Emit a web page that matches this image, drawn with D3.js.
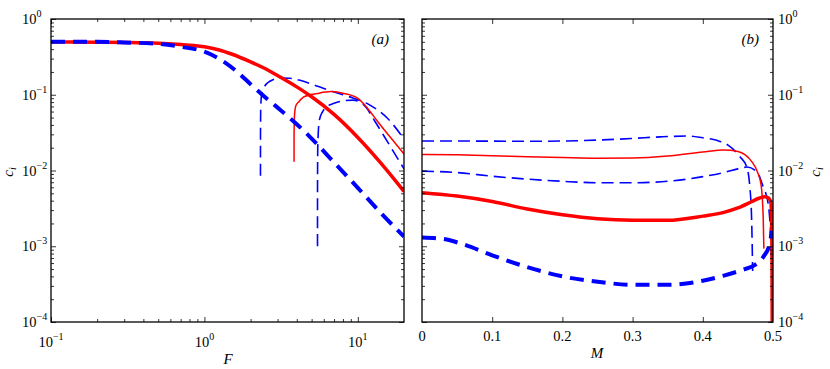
<!DOCTYPE html>
<html>
<head>
<meta charset="utf-8">
<script src="https://cdn.jsdelivr.net/npm/d3@7"></script>
<style>
  body { margin: 0; background: #fff; }
  svg text { font-family: "Liberation Serif", "Times New Roman", Times, "DejaVu Serif", serif; fill: #000; }
</style>
</head>
<body>
<div id="chart"></div>
<script>
// ---- data ----
// panel (a): c_i against F
var F_thickRed = [0.1, 0.2, 0.3, 0.5, 0.7, 0.85, 1, 1.25, 1.5, 2, 2.5, 3, 4, 5, 7, 10, 14, 20];
var c_thickRed = [0.498, 0.495, 0.49, 0.478, 0.46, 0.447, 0.43, 0.39, 0.345, 0.272, 0.22, 0.179, 0.127, 0.094, 0.055, 0.0273, 0.0128, 0.0053];

var F_thickBlue = [0.1, 0.2, 0.3, 0.5, 0.7, 1, 1.3, 1.6, 2, 2.5, 3, 4, 5, 7, 10, 14, 20];
var c_thickBlue = [0.5, 0.5, 0.49, 0.47, 0.43, 0.37, 0.284, 0.208, 0.138, 0.092, 0.0676, 0.0408, 0.0264, 0.0128, 0.0059, 0.0028, 0.00134];

var F_thinBlueA = [2.32, 2.321, 2.33, 2.36, 2.45, 2.6, 2.8, 3.1, 3.6, 4.2, 5, 6.3, 8, 9.4, 12, 15.6, 20];
var c_thinBlueA = [0.0085, 0.03, 0.07, 0.1, 0.125, 0.145, 0.158, 0.166, 0.165, 0.155, 0.138, 0.117, 0.1, 0.09, 0.073, 0.049, 0.026];

var F_thinRed = [3.84, 3.841, 3.87, 3.95, 4.13, 4.46, 5.46, 6.67, 8.13, 9.96, 11.6, 13.5, 16.4, 20];
var c_thinRed = [0.013, 0.03, 0.055, 0.072, 0.081, 0.094, 0.104, 0.11, 0.104, 0.09, 0.066, 0.044, 0.027, 0.0165];

var F_thinBlueB = [5.46, 5.461, 5.48, 5.6, 5.9, 6.3, 7, 8, 9.3, 10.3, 11.2, 12.8, 15.6, 20];
var c_thinBlueB = [0.001, 0.005, 0.02, 0.045, 0.06, 0.07, 0.077, 0.083, 0.085, 0.08, 0.07, 0.046, 0.024, 0.0105];

// panel (b): c_i against M
var M_thickRed = [0, 0.05, 0.1, 0.15, 0.2, 0.25, 0.3, 0.35, 0.4, 0.43, 0.45, 0.47, 0.48, 0.488, 0.494, 0.497, 0.4985, 0.499];
var cM_thickRed = [0.0051, 0.0046, 0.0039, 0.0031, 0.0026, 0.0023, 0.0022, 0.0022, 0.0025, 0.0028, 0.0032, 0.0039, 0.0043, 0.0045, 0.0043, 0.0038, 0.001, 0.00005];

var M_thinRed = [0, 0.05, 0.1, 0.15, 0.2, 0.25, 0.3, 0.35, 0.4, 0.43, 0.45, 0.46, 0.47, 0.478, 0.483, 0.486, 0.487];
var cM_thinRed = [0.0163, 0.0161, 0.0157, 0.0152, 0.0148, 0.0145, 0.0146, 0.0155, 0.0175, 0.0186, 0.0178, 0.0162, 0.013, 0.0095, 0.0065, 0.0025, 0.00093];

var M_thinBlueA = [0, 0.05, 0.1, 0.15, 0.2, 0.25, 0.3, 0.34, 0.38, 0.4, 0.42, 0.436, 0.453, 0.4625, 0.467, 0.4696, 0.471];
var cM_thinBlueA = [0.0245, 0.0245, 0.0244, 0.0243, 0.0245, 0.0252, 0.0265, 0.0278, 0.0285, 0.027, 0.025, 0.0216, 0.0152, 0.0112, 0.0061, 0.0022, 0.00047];

var M_thinBlueB = [0, 0.05, 0.1, 0.15, 0.2, 0.25, 0.3, 0.35, 0.4, 0.43, 0.45, 0.463, 0.477, 0.486, 0.493, 0.497, 0.498];
var cM_thinBlueB = [0.0098, 0.0094, 0.0084, 0.0077, 0.0072, 0.0069, 0.0069, 0.0072, 0.0083, 0.0094, 0.0105, 0.0111, 0.0096, 0.0061, 0.0037, 0.0012, 0.00066];

var M_thickBlue = [0, 0.03, 0.06, 0.1, 0.15, 0.2, 0.25, 0.3, 0.35, 0.4, 0.43, 0.46, 0.472, 0.486, 0.4957, 0.498];
var cM_thickBlue = [0.0013, 0.00125, 0.00105, 0.00076, 0.00053, 0.0004, 0.00034, 0.00031, 0.00031, 0.00035, 0.00041, 0.0005, 0.00055, 0.00072, 0.0011, 0.0016];

// tick labels
var fTickValues = [0.1, 1, 10];
var fTickExp = ["\u22121", "0", "1"];
var cTickValues = [1, 0.1, 0.01, 0.001, 0.0001];
var cTickExp = ["0", "\u22121", "\u22122", "\u22123", "\u22124"];
var mTickValues = [0, 0.1, 0.2, 0.3, 0.4, 0.5];
var mTickLabels = ["0", "0.1", "0.2", "0.3", "0.4", "0.5"];

// ---- layout ----
var svgWidth = 830;
var svgHeight = 369;
var plotTop = 19, plotBottom = 322;
var serif = "'Liberation Serif', 'Times New Roman', Times, 'DejaVu Serif', serif";

var svg = d3.select("#chart")
  .append("svg")
  .attr("width", svgWidth)
  .attr("height", svgHeight)
  .style("font-family", serif);

var yScale = d3.scaleLog().domain([1e-4, 1]).range([plotBottom, plotTop]);
var xF = d3.scaleLog().domain([0.1, 20]).range([51, 404]);
var xM = d3.scaleLinear().domain([0, 0.5]).range([422, 773]);

// minor ticks for log axes
function logMinor(lo, hi) {
  var out = [];
  for (var e = Math.floor(Math.log10(lo)); e < Math.ceil(Math.log10(hi)); e++) {
    for (var k = 2; k <= 9; k++) {
      var v = k * Math.pow(10, e);
      if (v > lo && v < hi) out.push(v);
    }
  }
  return out;
}

function drawTicks(g, x, xMajor, xMinor) {
  var x0 = x.range()[0], x1 = x.range()[1];
  [[xMajor, 5], [xMinor, 3]].forEach(function (s) {
    if (!s[0].length) return;
    g.append("g").attr("transform", "translate(0," + plotBottom + ")")
      .call(d3.axisBottom(x).tickValues(s[0]).tickSize(-s[1]).tickFormat(""));
    g.append("g").attr("transform", "translate(0," + plotTop + ")")
      .call(d3.axisTop(x).tickValues(s[0]).tickSize(-s[1]).tickFormat(""));
  });
  var yMinor = logMinor(1e-4, 1);
  [[cTickValues, 5], [yMinor, 3]].forEach(function (s) {
    g.append("g").attr("transform", "translate(" + x0 + ",0)")
      .call(d3.axisLeft(yScale).tickValues(s[0]).tickSize(-s[1]).tickFormat(""));
    g.append("g").attr("transform", "translate(" + x1 + ",0)")
      .call(d3.axisRight(yScale).tickValues(s[0]).tickSize(-s[1]).tickFormat(""));
  });
  g.selectAll(".domain").remove();
  g.selectAll(".tick line").attr("stroke", "#000").attr("stroke-width", 0.8);
  g.append("rect")
    .attr("x", x0).attr("y", plotTop)
    .attr("width", x1 - x0).attr("height", plotBottom - plotTop)
    .attr("fill", "none").attr("stroke", "#000").attr("stroke-width", 1.3);
}

function powLabel(g, x, y, exp, anchor) {
  var t = g.append("text")
    .attr("x", x).attr("y", y)
    .attr("text-anchor", anchor)
    .style("font-family", serif)
    .style("font-size", "14.5px");
  t.append("tspan").text("10");
  t.append("tspan").attr("dy", -7).style("font-size", "10px").text(exp);
}

function label(g, x, y, txt, size, italic, anchor) {
  return g.append("text").attr("x", x).attr("y", y)
    .attr("text-anchor", anchor || "middle")
    .style("font-family", serif)
    .style("font-size", size + "px")
    .style("font-style", italic ? "italic" : "normal")
    .text(txt);
}

var styles = {
  thickRed:  { stroke: "#ff0000", width: 3.5, dash: null },
  thinRed:   { stroke: "#ff0000", width: 1.5, dash: null },
  thickBlue: { stroke: "#0000ff", width: 4,   dash: "14,8" },
  thinBlue:  { stroke: "#0000ff", width: 1.6, dash: "12,6" }
};

function drawCurve(g, x, xs, cs, st, clipId) {
  var line = d3.line()
    .x(function (d) { return x(d[0]); })
    .y(function (d) { return yScale(Math.max(d[1], 1e-5)); })
    .curve(d3.curveMonotoneX);
  g.append("path")
    .attr("d", line(d3.zip(xs, cs)))
    .attr("clip-path", "url(#" + clipId + ")")
    .attr("fill", "none")
    .attr("stroke", st.stroke)
    .attr("stroke-width", st.width)
    .attr("stroke-dasharray", st.dash);
}

function addClip(id, x) {
  svg.append("clipPath").attr("id", id)
    .append("rect")
    .attr("x", x.range()[0]).attr("y", plotTop)
    .attr("width", x.range()[1] - x.range()[0]).attr("height", plotBottom - plotTop);
}

// ---- panel (a) ----
var ga = svg.append("g");
addClip("clipA", xF);
drawCurve(ga, xF, F_thinBlueA, c_thinBlueA, styles.thinBlue, "clipA");
drawCurve(ga, xF, F_thinBlueB, c_thinBlueB, styles.thinBlue, "clipA");
drawCurve(ga, xF, F_thinRed, c_thinRed, styles.thinRed, "clipA");
drawCurve(ga, xF, F_thickRed, c_thickRed, styles.thickRed, "clipA");
drawCurve(ga, xF, F_thickBlue, c_thickBlue, styles.thickBlue, "clipA");
drawTicks(ga, xF, fTickValues, logMinor(0.1, 20));

fTickValues.forEach(function (v, i) {
  powLabel(ga, xF(v), 347, fTickExp[i], "middle");
});
cTickValues.forEach(function (v, i) {
  powLabel(ga, 22, yScale(v) + 5, cTickExp[i], "start");
});
label(ga, 228, 364, "F", 15, true);
label(ga, 389, 44, "(a)", 15, true, "end");

// ---- panel (b) ----
var gb = svg.append("g");
addClip("clipB", xM);
drawCurve(gb, xM, M_thinBlueA, cM_thinBlueA, styles.thinBlue, "clipB");
drawCurve(gb, xM, M_thinBlueB, cM_thinBlueB, styles.thinBlue, "clipB");
drawCurve(gb, xM, M_thinRed, cM_thinRed, styles.thinRed, "clipB");
drawCurve(gb, xM, M_thickRed, cM_thickRed, styles.thickRed, "clipB");
drawCurve(gb, xM, M_thickBlue, cM_thickBlue, styles.thickBlue, "clipB");
drawTicks(gb, xM, mTickValues.slice(1, -1), []);

mTickValues.forEach(function (v, i) {
  label(gb, xM(v), 341, mTickLabels[i], 14.5, false);
});
cTickValues.forEach(function (v, i) {
  powLabel(gb, 778, yScale(v) + 5, cTickExp[i], "start");
});
label(gb, 597, 358, "M", 15, true);
label(gb, 759, 44, "(b)", 15, true, "end");

// y labels c_i on both sides
[[13, 172], [820, 172]].forEach(function (p) {
  var t = svg.append("text")
    .attr("transform", "translate(" + p[0] + "," + p[1] + ") rotate(-90)")
    .attr("text-anchor", "middle")
    .style("font-family", serif)
    .style("font-size", "15px").style("font-style", "italic");
  t.append("tspan").text("c");
  t.append("tspan").attr("dy", 3).style("font-size", "10px").text("i");
});
</script>
</body>
</html>
